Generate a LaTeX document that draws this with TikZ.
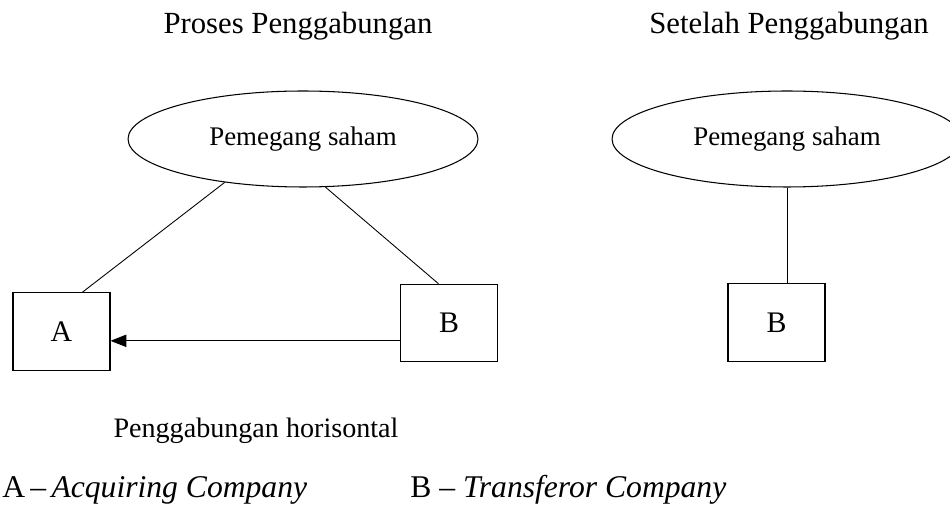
\documentclass[tikz,border=0pt]{standalone}
\usepackage{fontspec}
\setmainfont{Liberation Serif}
\usetikzlibrary{shapes.geometric,arrows.meta}
\begin{document}
\begin{tikzpicture}[x=0.02cm,y=-0.02cm,
    company/.style={draw,line width=0.6pt,minimum width=1.94cm,minimum height=1.55cm,inner sep=0pt,font=\fontsize{17}{20}\selectfont},
    holder/.style={draw,ellipse,line width=0.6pt,minimum width=7cm,minimum height=1.92cm,inner sep=0pt,font=\fontsize{15.3}{18}\selectfont},
    heading/.style={anchor=base,inner sep=0pt,font=\fontsize{17.5}{21}\selectfont},
    legend/.style={anchor=base west,inner sep=0pt,font=\fontsize{18}{21}\selectfont},
    link/.style={line width=0.5pt}]

    \useasboundingbox (0,0) rectangle (950,509);

    % --- Headings ---
    \node[heading] (T1) at (298,34) {Proses Penggabungan};
    \node[heading] (T2) at (789,34) {Setelah Penggabungan};

    % --- Shareholders ---
    \node[holder] (S1) at (303,139) {Pemegang saham};
    \node[holder] (S2) at (787,139) {Pemegang saham};

    % --- Companies ---
    \node[company] (A) at (61.5,331.5) {A};
    \node[company] (B) at (449,323) {B};
    \node[company] (B2) at (776.5,322.5) {B};

    % --- Lines ---
    % shareholders to both companies before the merger
    \draw[link] (S1.209) -- (A.62);
    \draw[link] (S1.-65) -- (B.105);
    % shareholders to the company that remains
    \draw[link] (S2.south) -- (S2.south |- B2.north);

    % B is merged into A
    \draw[link,-{Triangle[length=9pt,width=7pt]}] (B.200) -- (B.200 -| A.east);

    % --- Labels ---
    \node[heading,font=\fontsize{16}{19}\selectfont] (H) at (256,438) {Penggabungan horisontal};
    \node[legend] (LA) at (2,498) {A\,--\,\textit{Acquiring Company}};
    \node[legend] (LB) at (410,498) {B -- \textit{Transferor Company}};

\end{tikzpicture}
\end{document}
